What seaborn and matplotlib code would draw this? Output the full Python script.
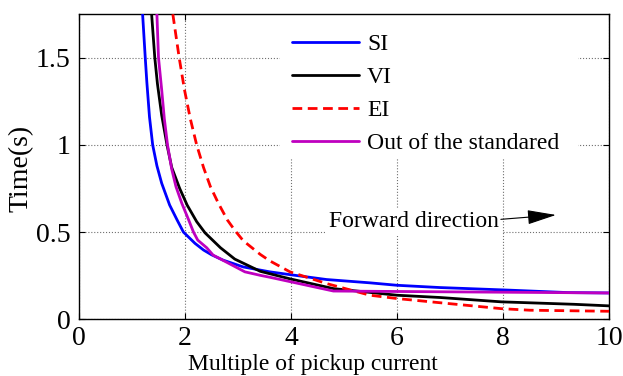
import matplotlib
matplotlib.use("Agg")
import matplotlib.pyplot as plt
import seaborn as sns
from matplotlib.patches import Rectangle

# ---- data ----
si_x = [1.18, 1.20, 1.25, 1.28, 1.33, 1.39, 1.47, 1.56, 1.71, 1.85, 1.97, 2.19, 2.35,
        2.50, 2.72, 3.10, 3.60, 3.98, 4.67, 5.49, 6.00, 6.81, 8.13, 9.23, 10.0]
si_y = [1.85, 1.75, 1.50, 1.36, 1.16, 1.00, 0.88, 0.78, 0.655, 0.57, 0.50, 0.435, 0.397,
        0.37, 0.339, 0.30, 0.272, 0.256, 0.228, 0.209, 0.195, 0.182, 0.167, 0.153, 0.151]

vi_x = [1.35, 1.37, 1.43, 1.48, 1.56, 1.66, 1.75, 1.90, 2.04, 2.22, 2.38, 2.67, 2.94,
        3.42, 3.98, 4.80, 6.00, 6.81, 7.97, 9.34, 10.0]
vi_y = [1.85, 1.75, 1.50, 1.35, 1.17, 1.00, 0.87, 0.75, 0.655, 0.56, 0.495, 0.41, 0.345,
        0.275, 0.232, 0.176, 0.138, 0.125, 0.100, 0.086, 0.077]

ei_x = [1.75, 1.77, 1.89, 1.99, 2.10, 2.22, 2.35, 2.48, 2.63, 2.80, 2.94, 3.10, 3.42,
        3.60, 3.98, 4.67, 5.49, 6.00, 6.81, 7.97, 8.51, 10.0]
ei_y = [1.85, 1.75, 1.50, 1.316, 1.15, 1.00, 0.87, 0.76, 0.665, 0.569, 0.51, 0.45, 0.372,
        0.335, 0.272, 0.205, 0.138, 0.119, 0.095, 0.061, 0.052, 0.046]

os_x = [1.45, 1.47, 1.50, 1.56, 1.61, 1.67, 1.75, 1.83, 1.94, 2.07, 2.16, 2.24, 2.41,
        2.53, 3.13, 3.42, 3.60, 4.80, 10.0]
os_y = [1.85, 1.75, 1.50, 1.316, 1.15, 1.00, 0.86, 0.76, 0.665, 0.569, 0.50, 0.454, 0.41,
        0.368, 0.272, 0.252, 0.241, 0.162, 0.151]

series_names = ["SI", "VI", "EI", "Out of the standared"]
x_ticks = [0, 2, 4, 6, 8, 10]
y_ticks = [0, 0.5, 1, 1.5]
y_tick_labels = ["0", "0.5", "1", "1.5"]

# ---- style ----
sns.set_theme(style="white")
plt.rcParams['font.family'] = ['Liberation Serif', 'DejaVu Serif']
for k in ['text.color', 'axes.labelcolor', 'xtick.color', 'ytick.color', 'axes.edgecolor']:
    plt.rcParams[k] = 'black'

fig = plt.figure(figsize=(6.23, 3.76), dpi=100)
ax = fig.add_axes([0.1268, 0.1508, 0.8507, 0.812])

lw = 2.0
sns.lineplot(x=si_x, y=si_y, ax=ax, color='#0000FF', lw=lw, label=series_names[0],
             estimator=None, sort=False, zorder=3)
sns.lineplot(x=vi_x, y=vi_y, ax=ax, color='black', lw=lw, label=series_names[1],
             estimator=None, sort=False, zorder=3)
sns.lineplot(x=ei_x, y=ei_y, ax=ax, color='#FF0000', lw=lw, label=series_names[2],
             estimator=None, sort=False, linestyle=(0, (3.5, 2.0)), zorder=3)
sns.lineplot(x=os_x, y=os_y, ax=ax, color='#BF00BF', lw=lw, label=series_names[3],
             estimator=None, sort=False, zorder=3)

ax.set_xlim(0, 10)
ax.set_ylim(0, 1.75)
ax.set_xticks(x_ticks)
ax.set_xticklabels([str(t) for t in x_ticks])
ax.set_yticks(y_ticks)
ax.set_yticklabels(y_tick_labels)

ax.set_axisbelow(True)
ax.grid(True, linestyle=':', color='#707070', linewidth=0.8)
for s in ax.spines.values():
    s.set_linewidth(1.0)
    s.set_color('black')

ax.tick_params(direction='in', top=True, right=True, bottom=True, left=True,
               length=4, width=0.8, labelsize=20)
ax.tick_params(axis='y', pad=6)
ax.tick_params(axis='x', pad=5)

ax.set_xlabel("Multiple of pickup current", fontsize=17)
ax.set_ylabel("Time(s)", fontsize=20)
ax.xaxis.set_label_coords(0.442, -0.113)
ax.yaxis.set_label_coords(-0.085, 0.495)

# white background behind the legend (hides grid there)
ax.add_patch(Rectangle((0.379, 0.528), 0.5625, 0.48, transform=ax.transAxes,
                       facecolor='white', edgecolor='none', zorder=1, clip_on=False))
leg = ax.legend(loc='upper left', bbox_to_anchor=(0.402, 0.936), frameon=False,
                fontsize=17, borderpad=0, borderaxespad=0, handlelength=2.84,
                handletextpad=0.34, labelspacing=0.49)

# annotation
ax.text(4.71, 0.56, "Forward direction", fontsize=17, ha='left', va='center',
        bbox=dict(facecolor='white', edgecolor='none', pad=2.5), zorder=4)
ax.annotate("", xy=(9.0, 0.598), xytext=(7.96, 0.573),
            arrowprops=dict(arrowstyle='-|>,head_length=1.0,head_width=0.25',
                            mutation_scale=18, color='black', lw=0.8,
                            shrinkA=0, shrinkB=0), zorder=4)

fig.savefig("out.png", dpi=100)
